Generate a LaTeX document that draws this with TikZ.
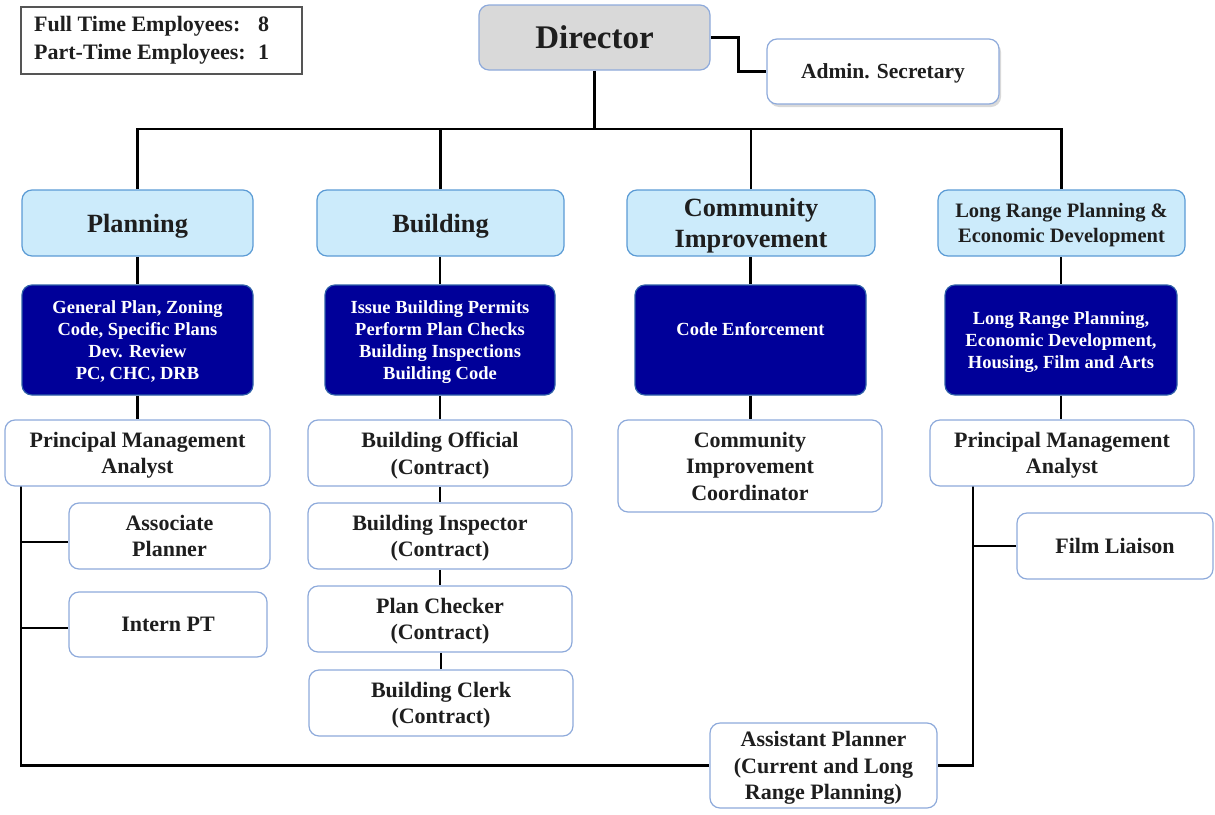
\documentclass[tikz,border=0pt]{standalone}
\usepackage{fontspec}
\setmainfont{Liberation Serif}
\usetikzlibrary{shadows}
\definecolor{lblue}{HTML}{CCEBFB}
\definecolor{tborder}{HTML}{5B9BD5}
\definecolor{dblue}{HTML}{000099}
\definecolor{dborder}{HTML}{2E5FA8}
\definecolor{wborder}{HTML}{8EAADB}
\definecolor{dirfill}{HTML}{D9D9D9}
\definecolor{txt}{HTML}{1E1E1E}
\definecolor{infoborder}{HTML}{555555}
\pgfdeclarelayer{bg}
\pgfsetlayers{bg,main}
\newcommand{\fdir}{\fontsize{33}{38}\selectfont}
\newcommand{\ftop}{\fontsize{26.3}{31}\selectfont}
\newcommand{\flrp}{\fontsize{20.5}{25}\selectfont}
\newcommand{\fdark}{\fontsize{18.5}{22}\selectfont}
\newcommand{\fthird}{\fontsize{22}{26.5}\selectfont}
\newcommand{\finfo}{\fontsize{22}{28}\selectfont}
\begin{document}
\begin{tikzpicture}[x=1pt,y=-1pt,
  base/.style={rounded corners=10pt, line width=1.2pt, align=center, inner sep=0pt, text depth=0pt, font=\bfseries, text=txt},
  wbox/.style={base, draw=wborder, fill=white, font=\bfseries\fthird},
  topbox/.style={base, draw=tborder, fill=lblue, font=\bfseries\ftop},
  darkbox/.style={base, draw=dborder, fill=dblue, text=white, font=\bfseries\fdark},
  conn/.style={line width=2.6pt, draw=black}]
\useasboundingbox (0,0) rectangle (1215,814);

% info box
\node[draw=infoborder, line width=1.2pt, minimum width=281pt, minimum height=67pt, inner sep=0pt] (info) at (161.5,40.5) {};
\node[anchor=west, align=left, inner sep=0pt, text=txt, font=\bfseries\finfo] (infotxt) at (34,40.5)
  {\makebox[224pt][l]{Full Time Employees:}8\\\makebox[224pt][l]{Part-Time Employees:}1};

% director and secretary
\node[base, draw=wborder, fill=dirfill, font=\bfseries\fdir, minimum width=231pt, minimum height=65pt] (dir) at (594.5,37.5) {Director};
\node[wbox, font=\bfseries\fontsize{21.5}{24}\selectfont, minimum width=232pt, minimum height=65pt,
  drop shadow={opacity=0.3, shadow xshift=2pt, shadow yshift=-3pt}] (adm) at (883,71.5) {Admin. Secretary};

% top row
\node[topbox, minimum width=231pt, minimum height=66pt] (plan) at (137.5,223) {Planning};
\node[topbox, minimum width=247pt, minimum height=66pt] (bld) at (440.5,223) {Building};
\node[topbox, minimum width=248pt, minimum height=66pt] (com) at (751,223) {Community\\Improvement};
\node[topbox, font=\bfseries\flrp, minimum width=247pt, minimum height=66pt] (lrp) at (1061.5,223) {Long Range Planning \&\\Economic Development};

% dark row
\node[darkbox, minimum width=231pt, minimum height=110pt] (dplan) at (137.5,340) {General Plan, Zoning\\Code, Specific Plans\\Dev. Review\\PC, CHC, DRB};
\node[darkbox, minimum width=230pt, minimum height=110pt] (dbld) at (440,340) {Issue Building Permits\\Perform Plan Checks\\Building Inspections\\Building Code};
\node[darkbox, minimum width=231pt, minimum height=110pt] (dcom) at (750.5,340) {Code Enforcement\\\mbox{}};
\node[darkbox, minimum width=232pt, minimum height=110pt] (dlrp) at (1061,340) {Long Range Planning,\\Economic Development,\\Housing, Film and Arts};

% third row
\node[wbox, minimum width=265pt, minimum height=66pt] (pmal) at (137.5,453) {Principal Management\\Analyst};
\node[wbox, minimum width=264pt, minimum height=66pt] (bo) at (440,453) {Building Official\\(Contract)};
\node[wbox, minimum width=264pt, minimum height=92pt] (cic) at (750,466) {Community\\Improvement\\Coordinator};
\node[wbox, minimum width=264pt, minimum height=66pt] (pmar) at (1062,453) {Principal Management\\Analyst};

% planning subordinates
\node[wbox, minimum width=201pt, minimum height=66pt] (assoc) at (169.5,536) {Associate\\Planner};
\node[wbox, minimum width=198pt, minimum height=65pt] (intern) at (168,624.5) {Intern PT};

% building chain
\node[wbox, minimum width=264pt, minimum height=66pt] (bi) at (440,536) {Building Inspector\\(Contract)};
\node[wbox, minimum width=264pt, minimum height=66pt] (pc) at (440,619) {Plan Checker\\(Contract)};
\node[wbox, minimum width=264pt, minimum height=66pt] (clerk) at (441,703) {Building Clerk\\(Contract)};

% right side
\node[wbox, minimum width=196pt, minimum height=66pt] (film) at (1115,546) {Film Liaison};
\node[wbox, minimum width=227pt, minimum height=85pt] (aplan) at (823.5,765.5) {Assistant Planner\\(Current and Long\\Range Planning)};

\begin{pgfonlayer}{bg}
  \draw[conn] (dir.east) -- ++(28,0) |- (adm.west);
  \coordinate (bus) at (594.5,129);
  \draw[conn] (dir.south) -- (bus);
  \draw[conn] (plan.north) |- (bus) -| (lrp.north);
  \draw[conn] (bld.north) -- (bld.north |- bus);
  \draw[conn] (com.north) -- (com.north |- bus);
  % top to dark
  \draw[conn] (plan.south) -- (dplan.north);
  \draw[conn] (dbld.north |- bld.south) -- (dbld.north);
  \draw[conn] (dcom.north |- com.south) -- (dcom.north);
  \draw[conn] (dlrp.north |- lrp.south) -- (dlrp.north);
  % dark to third
  \draw[conn] (dplan.south) -- (pmal.north);
  \draw[conn] (dbld.south) -- (bo.north);
  \draw[conn] (dcom.south) -- (dcom.south |- cic.north);
  \draw[conn] (dlrp.south) -- (dlrp.south |- pmar.north);
  % building chain
  \draw[conn] (bo.south) -- (bi.north);
  \draw[conn] (bi.south) -- (pc.north);
  \draw[conn] (clerk.north |- pc.south) -- (clerk.north);
  % left spine
  \coordinate (lspine) at (21,484);
  \draw[conn] (lspine) |- (aplan.west);
  \draw[conn] (lspine |- 0,542) -- (assoc.west |- 0,542);
  \draw[conn] (lspine |- 0,628) -- (intern.west |- 0,628);
  % right spine
  \coordinate (rspine) at (973,484);
  \draw[conn] (rspine) |- (aplan.east);
  \draw[conn] (rspine |- film.west) -- (film.west);
\end{pgfonlayer}
\end{tikzpicture}
\end{document}
